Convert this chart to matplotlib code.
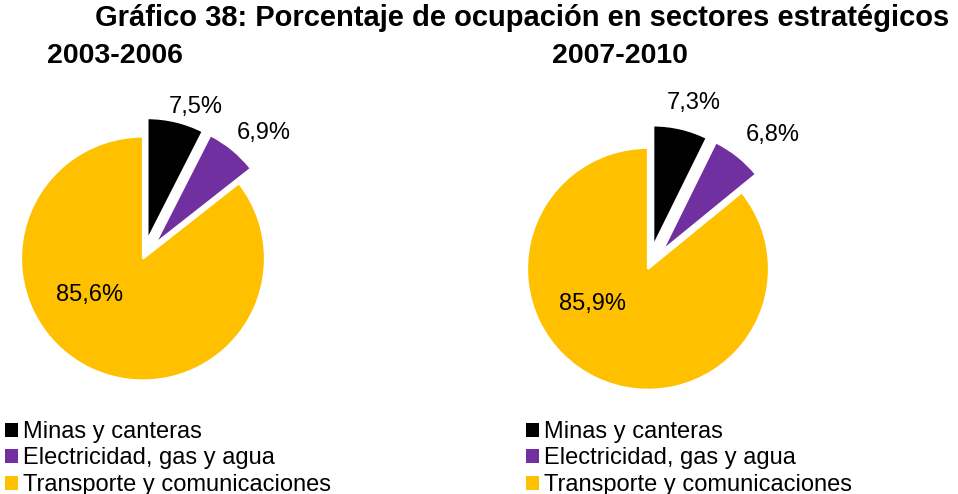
import numpy as np
import matplotlib
matplotlib.use("Agg")
import matplotlib.pyplot as plt
from matplotlib.patches import Patch

plt.rcParams['font.family'] = ['Liberation Sans', 'DejaVu Sans']

# Data
categories = ["Minas y canteras", "Electricidad, gas y agua", "Transporte y comunicaciones"]
periods = ["2003-2006", "2007-2010"]
shares_2003_2006 = [7.5, 6.9, 85.6]
shares_2007_2010 = [7.3, 6.8, 85.9]
title = "Gráfico 38: Porcentaje de ocupación en sectores estratégicos"

colors = ["#000000", "#7030A0", "#FFC000"]

W, H = 958, 494
DPI = 100
fig = plt.figure(figsize=(W / DPI, H / DPI), dpi=DPI)
fig.patch.set_facecolor("white")


def pie_axes(box, center, radius):
    """Axes covering pixel box (x0, y0, x1, y1; top-down) whose data unit is one pie radius."""
    x0, y0, x1, y1 = box
    cx, cy = center
    ax = fig.add_axes([x0 / W, 1 - y1 / H, (x1 - x0) / W, (y1 - y0) / H])
    return ax, ((x0 - cx) / radius, (x1 - cx) / radius), (-(y1 - cy) / radius, (cy - y0) / radius)


def draw_pie(values, box, center, radius, explode, label_offsets, legend_x):
    ax, xl, yl = pie_axes(box, center, radius)
    wedges, _ = ax.pie(values, colors=colors, startangle=90, counterclock=False,
                       explode=[explode, explode, 0],
                       wedgeprops=dict(edgecolor="white", linewidth=1.6))
    ax.set_xlim(*xl)
    ax.set_ylim(*yl)
    ax.set_aspect("auto")
    ax.axis("off")

    for w, v, (dist, dx, dy) in zip(wedges, values, label_offsets):
        mid = np.deg2rad((w.theta1 + w.theta2) / 2)
        cx, cy = w.center
        px = cx + dist * np.cos(mid)
        py = cy + dist * np.sin(mid)
        ax.annotate(f"{v:.1f}".replace(".", ",") + "%", xy=(px, py),
                    xytext=(dx * 0.72, dy * 0.72), textcoords="offset points",
                    ha="center", va="center", fontsize=17, color="black")

    handles = [Patch(facecolor=c, edgecolor="none") for c in colors]
    fig.legend(handles, categories, loc="upper left",
               bbox_to_anchor=(legend_x / W, 1 - 421 / H),
               frameon=False, fontsize=17, handlelength=0.53, handleheight=0.53,
               handletextpad=0.25, labelspacing=0.19, borderpad=0, borderaxespad=0)
    return ax


# label placement: (radial distance in radii, x offset px, y offset px)
left_offsets = [(1.0, 19.6, 14), (1.0, 31.5, 17), (0.6, -21, 29.4)]
right_offsets = [(1.0, 13.3, 25.6), (1.0, 35.3, 21.1), (0.6, -24, 30)]

draw_pie(shares_2003_2006, (0, 80, 479, 410), (143, 258.5), 122, 0.155, left_offsets, 5)
draw_pie(shares_2007_2010, (479, 80, 958, 410), (648, 268.8), 121, 0.19, right_offsets, 526)

fig.text(522 / W, 1 - 26 / H, title, ha="center", va="baseline",
         fontsize=21, fontweight="bold")
fig.text(115 / W, 1 - 63 / H, periods[0], ha="center", va="baseline",
         fontsize=20.5, fontweight="bold")
fig.text(620 / W, 1 - 63 / H, periods[1], ha="center", va="baseline",
         fontsize=20.5, fontweight="bold")

fig.savefig("out.png", dpi=DPI, facecolor="white")
